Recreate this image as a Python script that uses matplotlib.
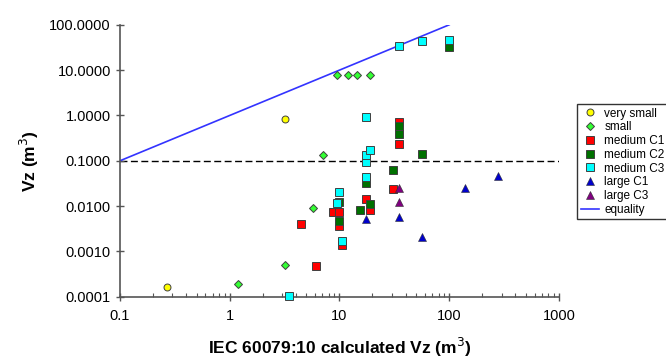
import numpy as np
import matplotlib.pyplot as plt
from matplotlib.ticker import FixedLocator, FixedFormatter, LogLocator, NullLocator

plt.rcParams['font.family'] = ['Liberation Sans', 'DejaVu Sans']

vsmall_x = [0.27, 3.2]
vsmall_y = [0.00016, 0.82]

small_x = [1.2, 3.2, 5.7, 7.1, 9.5, 11.9, 14.3, 19.1]
small_y = [0.00019, 0.0005, 0.0093, 0.134, 8.0, 8.0, 8.0, 8.0]

medc1_x = [4.5, 6.1, 8.8, 10.0, 10.0, 10.5, 17.5, 19.0, 31.0, 34.8, 34.8]
medc1_y = [0.004, 0.00047, 0.0075, 0.0075, 0.0037, 0.0014, 0.0143, 0.0082,
           0.0237, 0.73, 0.24]

medc2_x = [10.0, 10.0, 15.4, 19.0, 17.5, 31.0, 34.8, 34.8, 56.9, 100.0]
medc2_y = [0.012, 0.0047, 0.0082, 0.011, 0.033, 0.062, 0.58, 0.38, 0.14, 33.0]

medc3_x = [3.5, 9.5, 10.0, 10.5, 17.5, 17.5, 17.5, 19.0, 17.5, 34.8, 56.9, 100.0]
medc3_y = [0.000105, 0.0115, 0.020, 0.0017, 0.043, 0.092, 0.134, 0.172, 0.91,
           34.0, 44.6, 46.0]

largec1_x = [17.5, 34.8, 56.9, 139.0, 281.0]
largec1_y = [0.0052, 0.0058, 0.0021, 0.0245, 0.046]

largec3_x = [34.8, 34.8]
largec3_y = [0.0254, 0.0124]

eq_x = [0.1, 100]
eq_y = [0.1, 100]

yticks = [0.0001, 0.001, 0.01, 0.1, 1, 10, 100]
xticks = [0.1, 1, 10, 100, 1000]

fig = plt.figure(figsize=(6.66, 3.58), dpi=100)
ax = fig.add_axes([0.1802, 0.1712, 0.659, 0.7595])
ax.set_xscale('log')
ax.set_yscale('log')

ax.axhline(0.1, color='black', lw=1.0, ls=(0, (5, 2.5)), zorder=1)

kw = dict(ls='none', mec='#404040', mew=0.7, clip_on=False, zorder=3)
ax.plot(vsmall_x, vsmall_y, 'o', ms=5, mfc='#ffff00', label='very small', **kw)
ax.plot(small_x, small_y, 'D', ms=4, mfc='#33ff33', label='small', **kw)
ax.plot(medc1_x, medc1_y, 's', ms=5.2, mfc='#ff0000', label='medium C1', **kw)
ax.plot(medc2_x, medc2_y, 's', ms=5.2, mfc='#007000', label='medium C2', **kw)
ax.plot(medc3_x, medc3_y, 's', ms=5.2, mfc='#00ffff', label='medium C3', **kw)
ax.plot(largec1_x, largec1_y, '^', ms=5.5, mfc='#0000cc', label='large C1',
        ls='none', mec='#303030', mew=0.4, clip_on=False, zorder=3)
ax.plot(largec3_x, largec3_y, '^', ms=5.5, mfc='#800080', label='large C3',
        ls='none', mec='#303030', mew=0.4, clip_on=False, zorder=3)
ax.plot(eq_x, eq_y, color='#3333ff', lw=1.2, label='equality', zorder=2)

ax.set_xlim(0.1, 1000)
ax.set_ylim(0.0001, 100)

for s in ['top', 'right']:
    ax.spines[s].set_visible(False)
for s in ['left', 'bottom']:
    ax.spines[s].set_color('#555555')
    ax.spines[s].set_linewidth(1.2)

ax.yaxis.set_major_locator(FixedLocator(yticks))
ax.yaxis.set_major_formatter(FixedFormatter(['%.4f' % v for v in yticks]))
ax.yaxis.set_minor_locator(NullLocator())
ax.xaxis.set_major_locator(FixedLocator(xticks))
ax.xaxis.set_major_formatter(FixedFormatter(['0.1', '1', '10', '100', '1000']))
ax.xaxis.set_minor_locator(LogLocator(base=10, subs=np.arange(2, 10), numticks=20))

ax.tick_params(axis='both', which='major', direction='inout', length=6,
               width=1, color='#555555', labelsize=10.5)
ax.tick_params(axis='x', which='minor', direction='in', length=3,
               width=0.8, color='#555555')
ax.tick_params(axis='x', which='major', pad=6)

ax.set_xlabel('IEC 60079:10 calculated Vz (m$^3$)', fontsize=12.5,
              fontweight='bold', labelpad=9)
ax.set_ylabel('Vz (m$^3$)', fontsize=12.5, fontweight='bold', labelpad=6)

leg = ax.legend(loc='upper left', bbox_to_anchor=(577 / 666, 1 - 104 / 358),
                bbox_transform=fig.transFigure, fontsize=8.5, frameon=True,
                fancybox=False, edgecolor='black', borderpad=0.3,
                labelspacing=0.15, handlelength=1.6, handletextpad=0.4,
                borderaxespad=0)
leg.get_frame().set_linewidth(1.0)

plt.savefig('out.png', dpi=100)
